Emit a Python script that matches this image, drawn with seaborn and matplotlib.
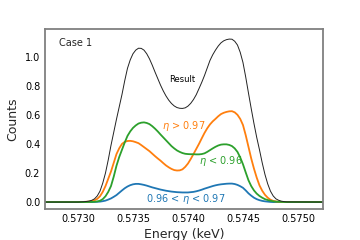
import matplotlib
matplotlib.use("Agg")
import matplotlib.pyplot as plt
import pandas as pd
import seaborn as sns
from matplotlib.ticker import MultipleLocator, FormatStrFormatter

energy = [0.572700,
          0.573000, 0.573025, 0.573050, 0.573075, 0.573100, 0.573125, 0.573150, 0.573175,
          0.573200, 0.573225, 0.573250, 0.573275, 0.573300, 0.573325, 0.573350, 0.573375,
          0.573400, 0.573425, 0.573450, 0.573475, 0.573500, 0.573525, 0.573550, 0.573575,
          0.573600, 0.573625, 0.573650, 0.573675, 0.573700, 0.573725, 0.573750, 0.573775,
          0.573800, 0.573825, 0.573850, 0.573875, 0.573900, 0.573925, 0.573950, 0.573975,
          0.574000, 0.574025, 0.574050, 0.574075, 0.574100, 0.574125, 0.574150, 0.574175,
          0.574200, 0.574225, 0.574250, 0.574275, 0.574300, 0.574325, 0.574350, 0.574375,
          0.574400, 0.574425, 0.574450, 0.574475, 0.574500, 0.574525, 0.574550, 0.574575,
          0.574600, 0.574625, 0.574650, 0.574675, 0.574700, 0.574725, 0.574750, 0.574775,
          0.574800, 0.574825, 0.574850, 0.574875, 0.574900,
          0.575250]

result = [0,
          0, 0.001, 0.002, 0.004, 0.007, 0.012, 0.022, 0.042,
          0.075, 0.13, 0.20, 0.29, 0.39, 0.48, 0.57, 0.655,
          0.74, 0.835, 0.92, 0.978, 1.02, 1.045, 1.058, 1.057,
          1.045, 1.02, 0.985, 0.942, 0.895, 0.85, 0.805, 0.765,
          0.73, 0.701, 0.678, 0.661, 0.65, 0.645, 0.644, 0.648,
          0.66, 0.679, 0.705, 0.738, 0.78, 0.823, 0.87, 0.922,
          0.974, 1.013, 1.045, 1.073, 1.095, 1.109, 1.117, 1.121,
          1.12, 1.106, 1.08, 1.03, 0.96, 0.86, 0.75, 0.643,
          0.54, 0.445, 0.36, 0.27, 0.19, 0.125, 0.075, 0.042,
          0.022, 0.012, 0.006, 0.003, 0.001,
          0]

eta_high = [0,
            0, 0, 0.001, 0.002, 0.003, 0.006, 0.012, 0.022,
            0.04, 0.07, 0.11, 0.16, 0.21, 0.27, 0.33, 0.37,
            0.40, 0.414, 0.42, 0.421, 0.418, 0.412, 0.405, 0.392,
            0.378, 0.364, 0.35, 0.333, 0.316, 0.30, 0.285, 0.268,
            0.252, 0.239, 0.228, 0.22, 0.217, 0.218, 0.225, 0.242,
            0.265, 0.296, 0.33, 0.365, 0.40, 0.438, 0.475, 0.507,
            0.534, 0.555, 0.572, 0.59, 0.605, 0.614, 0.62, 0.624,
            0.625, 0.617, 0.60, 0.572, 0.53, 0.46, 0.38, 0.30,
            0.23, 0.168, 0.115, 0.078, 0.05, 0.03, 0.016, 0.008,
            0.004, 0.002, 0.001, 0, 0,
            0]

eta_low = [0,
           0, 0, 0, 0, 0.001, 0.001, 0.002, 0.004,
           0.009, 0.02, 0.04, 0.07, 0.11, 0.175, 0.25, 0.31,
           0.36, 0.41, 0.455, 0.486, 0.51, 0.527, 0.54, 0.546,
           0.548, 0.544, 0.536, 0.522, 0.505, 0.486, 0.465, 0.445,
           0.425, 0.405, 0.385, 0.369, 0.355, 0.345, 0.337, 0.332,
           0.33, 0.329, 0.329, 0.328, 0.328, 0.33, 0.335, 0.345,
           0.357, 0.369, 0.38, 0.389, 0.395, 0.397, 0.397, 0.393,
           0.385, 0.369, 0.345, 0.307, 0.26, 0.204, 0.15, 0.11,
           0.08, 0.058, 0.042, 0.03, 0.02, 0.014, 0.009, 0.005,
           0.003, 0.002, 0.001, 0, 0,
           0]

eta_mid = [0,
           0, 0, 0, 0, 0, 0, 0.001, 0.002,
           0.003, 0.006, 0.01, 0.017, 0.025, 0.036, 0.048, 0.064,
           0.08, 0.095, 0.107, 0.116, 0.122, 0.125, 0.125, 0.122,
           0.118, 0.113, 0.107, 0.101, 0.096, 0.091, 0.086, 0.082,
           0.078, 0.075, 0.072, 0.07, 0.068, 0.067, 0.066, 0.066,
           0.066, 0.068, 0.07, 0.074, 0.079, 0.085, 0.092, 0.098,
           0.104, 0.11, 0.115, 0.119, 0.122, 0.124, 0.126, 0.127,
           0.127, 0.124, 0.118, 0.109, 0.098, 0.08, 0.06, 0.044,
           0.03, 0.02, 0.013, 0.008, 0.005, 0.003, 0.001, 0,
           0, 0, 0, 0, 0,
           0]

series_names = ["Result", r"$\eta$ > 0.97", r"$\eta$ < 0.96", r"0.96 < $\eta$ < 0.97"]
xticks = [0.5730, 0.5735, 0.5740, 0.5745, 0.5750]
yticks = [0.0, 0.2, 0.4, 0.6, 0.8, 1.0]

sns.set_style("white")
plt.rcParams["font.family"] = ["DejaVu Sans"]

fig = plt.figure(figsize=(3.6, 2.4), dpi=100)
ax = fig.add_axes([0.125, 0.129, 0.772, 0.750])

df = pd.DataFrame({"energy": energy, "result": result, "high": eta_high,
                   "low": eta_low, "mid": eta_mid})

sns.lineplot(data=df, x="energy", y="mid", color="#1f77b4", lw=1.3, ax=ax)
sns.lineplot(data=df, x="energy", y="high", color="#ff7f0e", lw=1.3, ax=ax)
sns.lineplot(data=df, x="energy", y="low", color="#2ca02c", lw=1.3, ax=ax)
sns.lineplot(data=df, x="energy", y="result", color="#222222", lw=0.7, ax=ax)

ax.set_xlim(0.57270, 0.575227)
ax.set_ylim(-0.048, 1.19)
ax.set_xticks(xticks)
ax.set_yticks(yticks)
ax.xaxis.set_major_formatter(FormatStrFormatter("%.4f"))
ax.yaxis.set_major_formatter(FormatStrFormatter("%.1f"))
ax.xaxis.set_minor_locator(MultipleLocator(0.0001))
ax.tick_params(which="both", direction="in", color="#808080", labelsize=7,
               labelcolor="black")
ax.tick_params(which="major", length=3.5, width=0.8)
ax.tick_params(which="minor", length=2, width=0.6)
for s in ax.spines.values():
    s.set_color("#808080")
    s.set_linewidth(1.3)

ax.set_xlabel("Energy (keV)", fontsize=9, labelpad=3)
ax.set_ylabel("Counts", fontsize=9, labelpad=4)

ax.text(0.05, 0.92, "Case 1", transform=ax.transAxes, fontsize=7, ha="left", va="center")
ax.text(0.57395, 0.84, series_names[0], fontsize=6, color="black", ha="center", va="center")
ax.text(0.57396, 0.52, series_names[1], fontsize=7, color="#ff7f0e", ha="center", va="center")
ax.text(0.57430, 0.28, series_names[2], fontsize=7, color="#2ca02c", ha="center", va="center")
ax.text(0.57398, 0.02, series_names[3], fontsize=7, color="#1f77b4", ha="center", va="center")

fig.savefig("out.png", dpi=100)
